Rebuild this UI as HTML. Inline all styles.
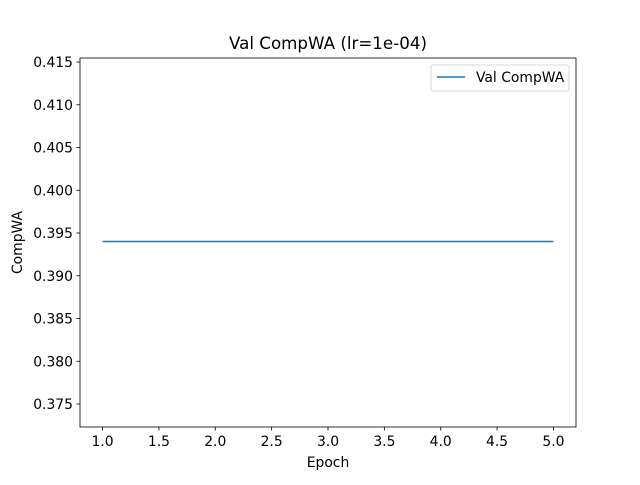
<!DOCTYPE html>
<html><head><meta charset="utf-8"><style>
body{margin:0;background:#fff;}
svg text{font-family:"DejaVu Sans","Liberation Sans",sans-serif;fill:#000;}
</style></head><body>
<svg width="640" height="480" viewBox="0 0 640 480">
<rect width="640" height="480" fill="#fff"/>
<text x="328" y="49" font-size="16.7" text-anchor="middle">Val CompWA (lr=1e-04)</text>
<g id="xt"></g><g id="yt"></g>
<path id="series" fill="none" stroke="#1f77b4" stroke-width="1.5"/>
<rect x="80" y="58" width="496" height="369" fill="none" stroke="#000" stroke-width="0.8"/>
<text x="328" y="467" font-size="13.9" text-anchor="middle">Epoch</text>
<text transform="translate(22,242.5) rotate(-90)" font-size="13.9" text-anchor="middle">CompWA</text>
<g>
<rect x="431" y="65" width="138" height="26" rx="2" fill="#fff" stroke="#ccc" stroke-width="0.8"/>
<line x1="437" y1="77" x2="465" y2="77" stroke="#1f77b4" stroke-width="1.5"/>
<text x="476" y="82" font-size="13.9">Val CompWA</text>
</g>
</svg>
<script>
const epochs=[1,2,3,4,5];
const valCompWA=[0.394,0.394,0.394,0.394,0.394];
const xTicks=[1.0,1.5,2.0,2.5,3.0,3.5,4.0,4.5,5.0];
const yTicks=[0.375,0.380,0.385,0.390,0.395,0.400,0.405,0.410,0.415];
const X0=80,X1=576,Y0=427,Y1=58;
const xmin=0.8,xmax=5.2,ymin=0.37231,ymax=0.41547;
const sx=v=>X0+(v-xmin)/(xmax-xmin)*(X1-X0);
const sy=v=>Y0-(v-ymin)/(ymax-ymin)*(Y0-Y1);
const NS="http://www.w3.org/2000/svg";
const xt=document.getElementById('xt'),yt=document.getElementById('yt');
xTicks.forEach(t=>{
 const l=document.createElementNS(NS,'line');
 l.setAttribute('x1',sx(t));l.setAttribute('x2',sx(t));l.setAttribute('y1',Y0);l.setAttribute('y2',Y0+3.5);
 l.setAttribute('stroke','#000');l.setAttribute('stroke-width','0.8');
 
 
 xt.appendChild(l);
 const tx=document.createElementNS(NS,'text');
 tx.setAttribute('x',sx(t));tx.setAttribute('y',Y0+19);tx.setAttribute('font-size','13.9');tx.setAttribute('text-anchor','middle');
 tx.textContent=t.toFixed(1);
 
 
 xt.appendChild(tx);
});
yTicks.forEach(t=>{
 const l=document.createElementNS(NS,'line');
 l.setAttribute('x1',X0-3.5);l.setAttribute('x2',X0);l.setAttribute('y1',sy(t));l.setAttribute('y2',sy(t));
 l.setAttribute('stroke','#000');l.setAttribute('stroke-width','0.8');
 
 
 yt.appendChild(l);
 const tx=document.createElementNS(NS,'text');
 tx.setAttribute('x',X0-7);tx.setAttribute('y',sy(t)+5);tx.setAttribute('font-size','13.9');tx.setAttribute('text-anchor','end');
 tx.textContent=t.toFixed(3);
 
 
 yt.appendChild(tx);
});
document.getElementById('series').setAttribute('d',epochs.map((e,i)=>(i?'L':'M')+sx(e)+','+sy(valCompWA[i])).join(' '));
</script>
</body></html>
